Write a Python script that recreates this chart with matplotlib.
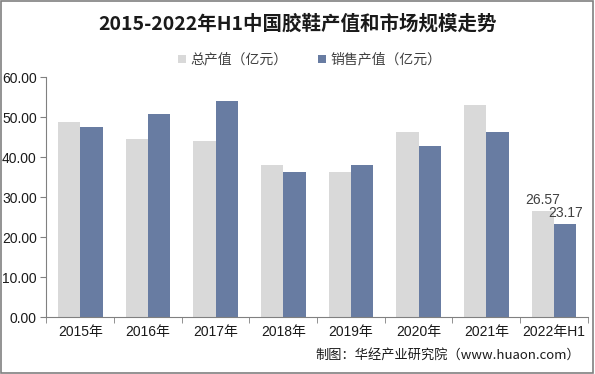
import matplotlib
matplotlib.use("Agg")
import matplotlib.pyplot as plt
import numpy as np

plt.rcParams['font.family'] = ['Noto Sans CJK SC', 'DejaVu Sans']
num_font = ['Liberation Sans', 'Noto Sans CJK SC']

# data
years = ['2015年', '2016年', '2017年', '2018年', '2019年', '2020年', '2021年', '2022年H1']
total_value = [48.75, 44.5, 44.0, 38.0, 36.25, 46.25, 53.0, 26.57]
sales_value = [47.5, 50.75, 54.0, 36.25, 38.0, 42.75, 46.25, 23.17]
series_names = ['总产值（亿元）', '销售产值（亿元）']

c_total = '#D9D9D9'
c_sales = '#687CA2'

fig = plt.figure(figsize=(5.95, 3.74), dpi=100)
ax = fig.add_axes([0.078, 0.152, 0.91, 0.642])

x = np.arange(len(years))
w = 0.33
ax.bar(x - w / 2, total_value, w, color=c_total, label=series_names[0])
ax.bar(x + w / 2, sales_value, w, color=c_sales, label=series_names[1])

# labels only on the last group
ax.text(x[-1] - w / 2, total_value[-1] + 1.0, f'{total_value[-1]:.2f}',
        ha='center', va='bottom', fontsize=10, color='#404040', family=num_font)
ax.text(x[-1] + w / 2, sales_value[-1] + 1.0, f'{sales_value[-1]:.2f}',
        ha='center', va='bottom', fontsize=10, color='#404040', family=num_font)

ax.set_xlim(-0.5, len(years) - 0.5)
ax.set_ylim(0, 60)
ax.set_yticks(np.arange(0, 61, 10))
ax.set_yticklabels([f'{v:.2f}' for v in np.arange(0, 61, 10)], family=num_font)
ax.set_xticks(x)
ax.set_xticklabels(years, family=num_font)
ax.set_xticks(np.arange(-0.5, len(years), 1), minor=True)
ax.tick_params(axis='x', which='major', length=0, labelsize=10, pad=6, labelcolor='#1a1a1a')
ax.tick_params(axis='x', which='minor', length=4, color='#808080')
ax.tick_params(axis='y', length=4, color='#808080', labelsize=10, pad=3, labelcolor='#1a1a1a')

for s in ['top', 'right']:
    ax.spines[s].set_visible(False)
for s in ['left', 'bottom']:
    ax.spines[s].set_color('#808080')
    ax.spines[s].set_linewidth(0.8)

fig.text(0.5, 0.935, '2015-2022年H1中国胶鞋产值和市场规模走势', ha='center', va='center',
         fontsize=14, fontweight='bold', color='#1a1a1a')

ax.legend(loc='center', bbox_to_anchor=(0.52, 0.84), bbox_transform=fig.transFigure,
          ncol=2, frameon=False, fontsize=10, handlelength=0.6, handleheight=0.6,
          handletextpad=0.3, columnspacing=2.2, labelcolor='#404040')

fig.text(0.975, 0.05, '制图：华经产业研究院（www.huaon.com）', ha='right', va='center',
         fontsize=9.5, color='#1a1a1a')

# outer frame
fig.patches.append(plt.Rectangle((0.002, 0.003), 0.995, 0.994, transform=fig.transFigure,
                                 fill=False, edgecolor='#808080', linewidth=1.2))

fig.savefig('out.png', dpi=100)
